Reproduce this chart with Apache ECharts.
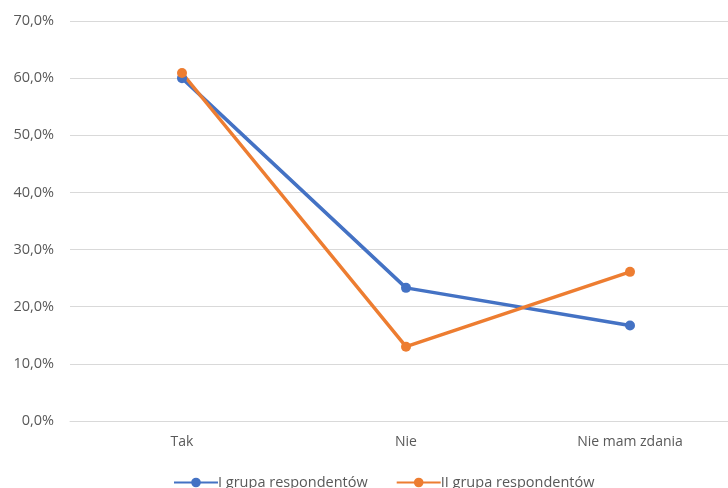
<!DOCTYPE html>
<html>
<head>
<meta charset="utf-8">
<script src="https://cdn.jsdelivr.net/npm/echarts@6/dist/echarts.min.js"></script>
<style>
  html, body { margin: 0; padding: 0; background: #ffffff; overflow: hidden; }
  /* canvas is a bit wider than the window so the plot runs past the right edge */
  #chart { width: 742px; height: 488px; }
</style>
</head>
<body>
<div id="chart"></div>
<script>
// Survey answers, share of respondents per answer (%)
const categories = ['Tak', 'Nie', 'Nie mam zdania'];
const groupOne = [60.0, 23.3, 16.7];
const groupTwo = [60.9, 13.0, 26.1];
const seriesNames = ['I grupa respondentów', 'II grupa respondentów'];

const FONT = '"Open Sans", "Liberation Sans", sans-serif';
const TEXT = '#595959';

const chart = echarts.init(document.getElementById('chart'), null, { renderer: 'canvas' });

function lineSeries(name, data, color) {
  return {
    name: name,
    type: 'line',
    data: data,
    symbol: 'circle',
    symbolSize: 10,
    lineStyle: { width: 3.5, color: color },
    itemStyle: { color: color },
    emphasis: { disabled: true }
  };
}

chart.setOption({
  animation: false,
  backgroundColor: '#ffffff',
  textStyle: { fontFamily: FONT },
  grid: { left: 70, right: 0, top: 21, bottom: 67, containLabel: false },
  xAxis: {
    type: 'category',
    data: categories,
    boundaryGap: true,
    axisLine: { show: true, lineStyle: { color: '#d9d9d9', width: 1 } },
    axisTick: { show: false },
    axisLabel: { color: TEXT, fontSize: 14, fontFamily: FONT, margin: 14 }
  },
  yAxis: {
    type: 'value',
    min: 0,
    max: 70,
    interval: 10,
    axisLine: { show: false },
    axisTick: { show: false },
    splitLine: { lineStyle: { color: '#d9d9d9', width: 1 } },
    axisLabel: {
      color: TEXT,
      fontSize: 14.5,
      fontFamily: FONT,
      margin: 16,
      formatter: v => v.toFixed(1).replace('.', ',') + '%'
    }
  },
  legend: {
    data: seriesNames,
    left: 168,
    bottom: -7,
    itemWidth: 44,
    itemHeight: 12,
    itemGap: 28,
    textStyle: { color: TEXT, fontSize: 14.5, fontFamily: FONT, padding: [0, 0, 0, -5] }
  },
  series: [
    lineSeries(seriesNames[0], groupOne, '#4472C4'),
    lineSeries(seriesNames[1], groupTwo, '#ED7D31')
  ]
});
</script>
</body>
</html>
